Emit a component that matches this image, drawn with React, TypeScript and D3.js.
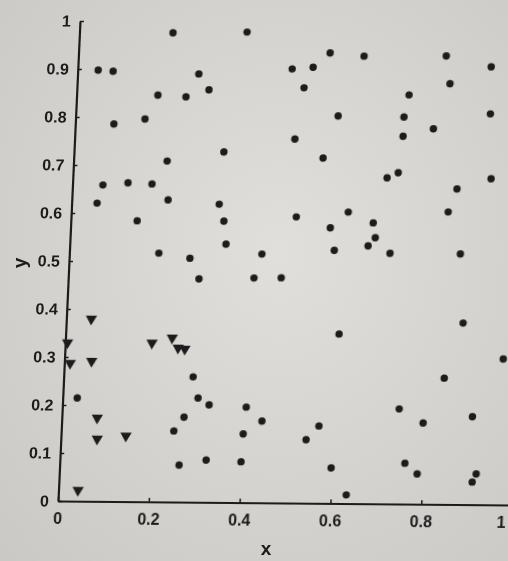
import React, { useEffect, useRef } from 'react';
import * as d3 from 'd3';

// points, [x, y]
const trianglePoints: [number, number][] = [
  [0.055, 0.38], [0.06, 0.292], [0.078, 0.174], [0.08, 0.13], [0.143, 0.137],
  [0.043, 0.023], [0.191, 0.331], [0.235, 0.342], [0.249, 0.321], [0.264, 0.319],
  [0.005, 0.33], [0.013, 0.287],
];

const circlePoints: [number, number][] = [
  [0.206, 0.977], [0.045, 0.898], [0.078, 0.896], [0.267, 0.892], [0.291, 0.859],
  [0.179, 0.847], [0.241, 0.844], [0.085, 0.786], [0.153, 0.797], [0.206, 0.71],
  [0.067, 0.659], [0.122, 0.664], [0.175, 0.662], [0.056, 0.621], [0.212, 0.629],
  [0.146, 0.585], [0.197, 0.518], [0.266, 0.508], [0.288, 0.465], [0.369, 0.98],
  [0.554, 0.938], [0.472, 0.904], [0.518, 0.908], [0.5, 0.865], [0.578, 0.807],
  [0.485, 0.758], [0.33, 0.73], [0.549, 0.719], [0.325, 0.621], [0.337, 0.586],
  [0.496, 0.596], [0.61, 0.607], [0.572, 0.574], [0.344, 0.538], [0.424, 0.518],
  [0.583, 0.527], [0.629, 0.932], [0.81, 0.934], [0.91, 0.912], [0.732, 0.852],
  [0.821, 0.876], [0.723, 0.806], [0.913, 0.814], [0.789, 0.782], [0.723, 0.766],
  [0.692, 0.679], [0.716, 0.69], [0.921, 0.679], [0.847, 0.657], [0.83, 0.609],
  [0.666, 0.585], [0.672, 0.554], [0.657, 0.537], [0.706, 0.522], [0.861, 0.522],
  [0.409, 0.468], [0.469, 0.469], [0.602, 0.353], [0.874, 0.378], [0.966, 0.304],
  [0.838, 0.263], [0.285, 0.261], [0.298, 0.217], [0.323, 0.203], [0.032, 0.215],
  [0.269, 0.177], [0.248, 0.148], [0.263, 0.077], [0.322, 0.088], [0.405, 0.199],
  [0.441, 0.17], [0.401, 0.143], [0.399, 0.085], [0.567, 0.161], [0.54, 0.132],
  [0.598, 0.074], [0.634, 0.018], [0.742, 0.198], [0.796, 0.169], [0.904, 0.183],
  [0.76, 0.085], [0.788, 0.063], [0.91, 0.047], [0.918, 0.064],
];

const xTicks = [0, 0.2, 0.4, 0.6, 0.8, 1];
const xTickLabels = ['0', '0.2', '0.4', '0.6', '0.8', '1'];
const yTicks = [0, 0.1, 0.2, 0.3, 0.4, 0.5, 0.6, 0.7, 0.8, 0.9, 1];
const yTickLabels = ['0', '0.1', '0.2', '0.3', '0.4', '0.5', '0.6', '0.7', '0.8', '0.9', '1'];

const App = () => {
  const ref = useRef<SVGSVGElement>(null);

  useEffect(() => {
    const svg = d3.select(ref.current);
    svg.selectAll('*').remove();

    const width = 508, height = 561;
    const w = 454, h = 480;
    const ink = '#1b1b1b';

    const defs = svg.append('defs');
    const grad = defs.append('radialGradient').attr('id', 'paper')
      .attr('cx', '55%').attr('cy', '45%').attr('r', '80%');
    grad.append('stop').attr('offset', '0%').attr('stop-color', '#e0dfdb');
    grad.append('stop').attr('offset', '100%').attr('stop-color', '#cac8c4');
    defs.append('filter').attr('id', 'soft')
      .append('feGaussianBlur').attr('stdDeviation', 0.6);

    svg.append('rect').attr('width', width).attr('height', height).attr('fill', 'url(#paper)');

    const root = svg.append('g').attr('filter', 'url(#soft)');

    // the photographed sheet is slightly skewed
    const g = root.append('g')
      .attr('transform', `matrix(1, ${4 / w}, ${-22 / h}, 1, 80, 21)`);

    const x = d3.scaleLinear().domain([0, 1]).range([0, w]);
    const y = d3.scaleLinear().domain([0, 1]).range([h, 0]);

    const font = "'Liberation Sans', Arial, sans-serif";

    const xAxis = g.append('g')
      .attr('transform', `translate(0,${h})`)
      .call(d3.axisBottom(x).tickValues(xTicks)
        .tickFormat((d, i) => xTickLabels[i])
        .tickSizeInner(-4).tickSizeOuter(0).tickPadding(12));

    const yAxis = g.append('g')
      .call(d3.axisLeft(y).tickValues(yTicks)
        .tickFormat((d, i) => yTickLabels[i])
        .tickSizeInner(-4).tickSizeOuter(0).tickPadding(9));

    [xAxis, yAxis].forEach(a => {
      a.select('.domain').attr('stroke', ink).attr('stroke-width', 2.2);
      a.selectAll('.tick line').attr('stroke', ink).attr('stroke-width', 1.5);
      a.selectAll('.tick text')
        .attr('fill', ink)
        .style('font-family', font)
        .style('font-size', '16px')
        .style('font-weight', 'bold');
    });

    // last x label sits at the sheet's edge; keep it inside the frame
    xAxis.selectAll('.tick text').filter((d, i) => i === xTicks.length - 1)
      .attr('text-anchor', 'end').attr('dx', -6);

    g.selectAll('path.tri')
      .data(trianglePoints)
      .join('path')
        .attr('class', 'tri')
        .attr('d', d3.symbol().type(d3.symbolTriangle).size(55))
        .attr('transform', d => `translate(${x(d[0])},${y(d[1])}) rotate(180)`)
        .attr('fill', ink);

    g.selectAll('circle.dot')
      .data(circlePoints)
      .join('circle')
        .attr('class', 'dot')
        .attr('cx', d => x(d[0]))
        .attr('cy', d => y(d[1]))
        .attr('r', 3.7)
        .attr('fill', ink);

    root.append('text')
      .attr('x', 266).attr('y', 555)
      .attr('text-anchor', 'middle')
      .attr('fill', ink)
      .style('font-family', font)
      .style('font-size', '19px')
      .style('font-weight', 'bold')
      .text('x');

    root.append('text')
      .attr('transform', 'translate(26,263) rotate(-90)')
      .attr('text-anchor', 'middle')
      .attr('fill', ink)
      .style('font-family', font)
      .style('font-size', '19px')
      .style('font-weight', 'bold')
      .text('y');
  }, []);

  return (
    <svg ref={ref} width={508} height={561}
      style={{ position: 'absolute', left: 0, top: 0, display: 'block' }}></svg>
  );
};

export default App;
